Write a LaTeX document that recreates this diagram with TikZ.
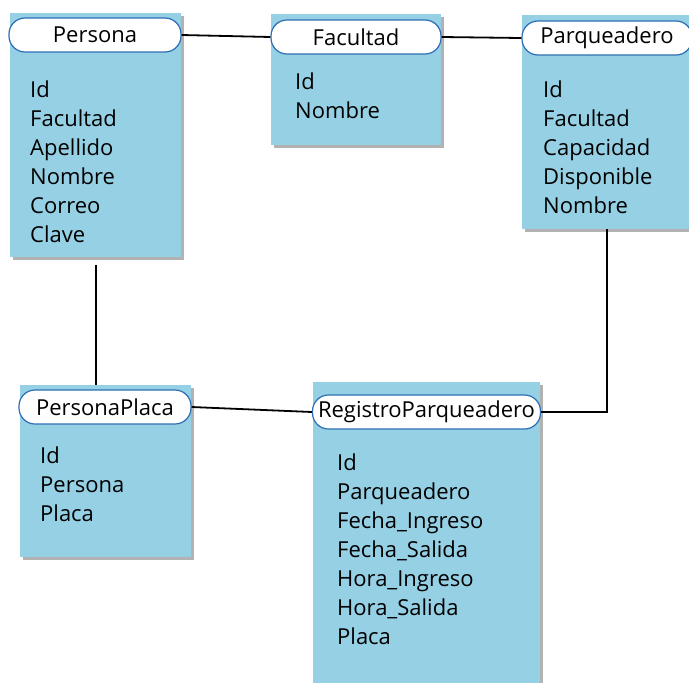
\documentclass[tikz,border=0pt]{standalone}
\usepackage{fontspec}
\setmainfont{Open Sans}
\usetikzlibrary{shadows}
\definecolor{celeste}{RGB}{150,208,228}
\definecolor{borde}{RGB}{45,110,180}
\begin{document}
\begin{tikzpicture}[x=1pt, y=-1pt, every node/.style={font=\fontsize{22}{29}\selectfont},
	tabla/.style={fill=celeste, inner sep=0pt, anchor=north west,
		drop shadow={shadow xshift=3pt, shadow yshift=-3pt, fill=black!60, opacity=0.5}},
	cabecera/.style={draw=borde, fill=white, line width=1.2pt, rounded corners=16pt,
		minimum height=34pt, inner sep=0pt},
	campos/.style={anchor=north west, align=left, inner sep=0pt},
	enlace/.style={line width=1.8pt}]
\useasboundingbox (0,0) rectangle (689,683);
% tablas
\node[tabla, minimum width=171pt, minimum height=244pt] (persona) at (10,13) {};
\node[cabecera, minimum width=172pt] (persona-t) at (95,35) {Persona};
\node[campos] (persona-c) at (30,80.5) {Id\\Facultad\\Apellido\\Nombre\\Correo\\Clave};

\node[tabla, minimum width=170pt, minimum height=131pt] (facultad) at (271,14) {};
\node[cabecera, minimum width=170pt] (facultad-t) at (356,37) {Facultad};
\node[campos] (facultad-c) at (295,72.5) {Id\\Nombre};

\node[tabla, minimum width=170pt, minimum height=214pt] (parq) at (522,15) {};
\node[cabecera, minimum width=170pt] (parq-t) at (607,38) {Parqueadero};
\node[campos] (parq-c) at (543,80.5) {Id\\Facultad\\Capacidad\\Disponible\\Nombre};

\node[tabla, minimum width=171pt, minimum height=172pt] (placa) at (20,385) {};
\node[cabecera, minimum width=172pt] (placa-t) at (105,407) {PersonaPlaca};
\node[campos] (placa-c) at (40,446.5) {Id\\Persona\\Placa};

\node[tabla, minimum width=227pt, minimum height=310pt] (registro) at (313,382) {};
\node[cabecera, minimum width=228pt] (registro-t) at (426.5,412) {RegistroParqueadero};
\node[campos] (registro-c) at (337,453.5) {Id\\Parqueadero\\Fecha\_Ingreso\\Fecha\_Salida\\Hora\_Ingreso\\Hora\_Salida\\Placa};
% relaciones
\draw[enlace] (persona-t.east) -- (facultad-t.west);
\draw[enlace] (facultad-t.east) -- (parq-t.west);
\draw[enlace, shorten <=8pt] (persona.south) -- (persona.south |- placa.north);
\draw[enlace] (placa-t.east) -- (registro-t.west);
\draw[enlace] (registro-t.east) -| (parq.south);
\end{tikzpicture}
\end{document}
